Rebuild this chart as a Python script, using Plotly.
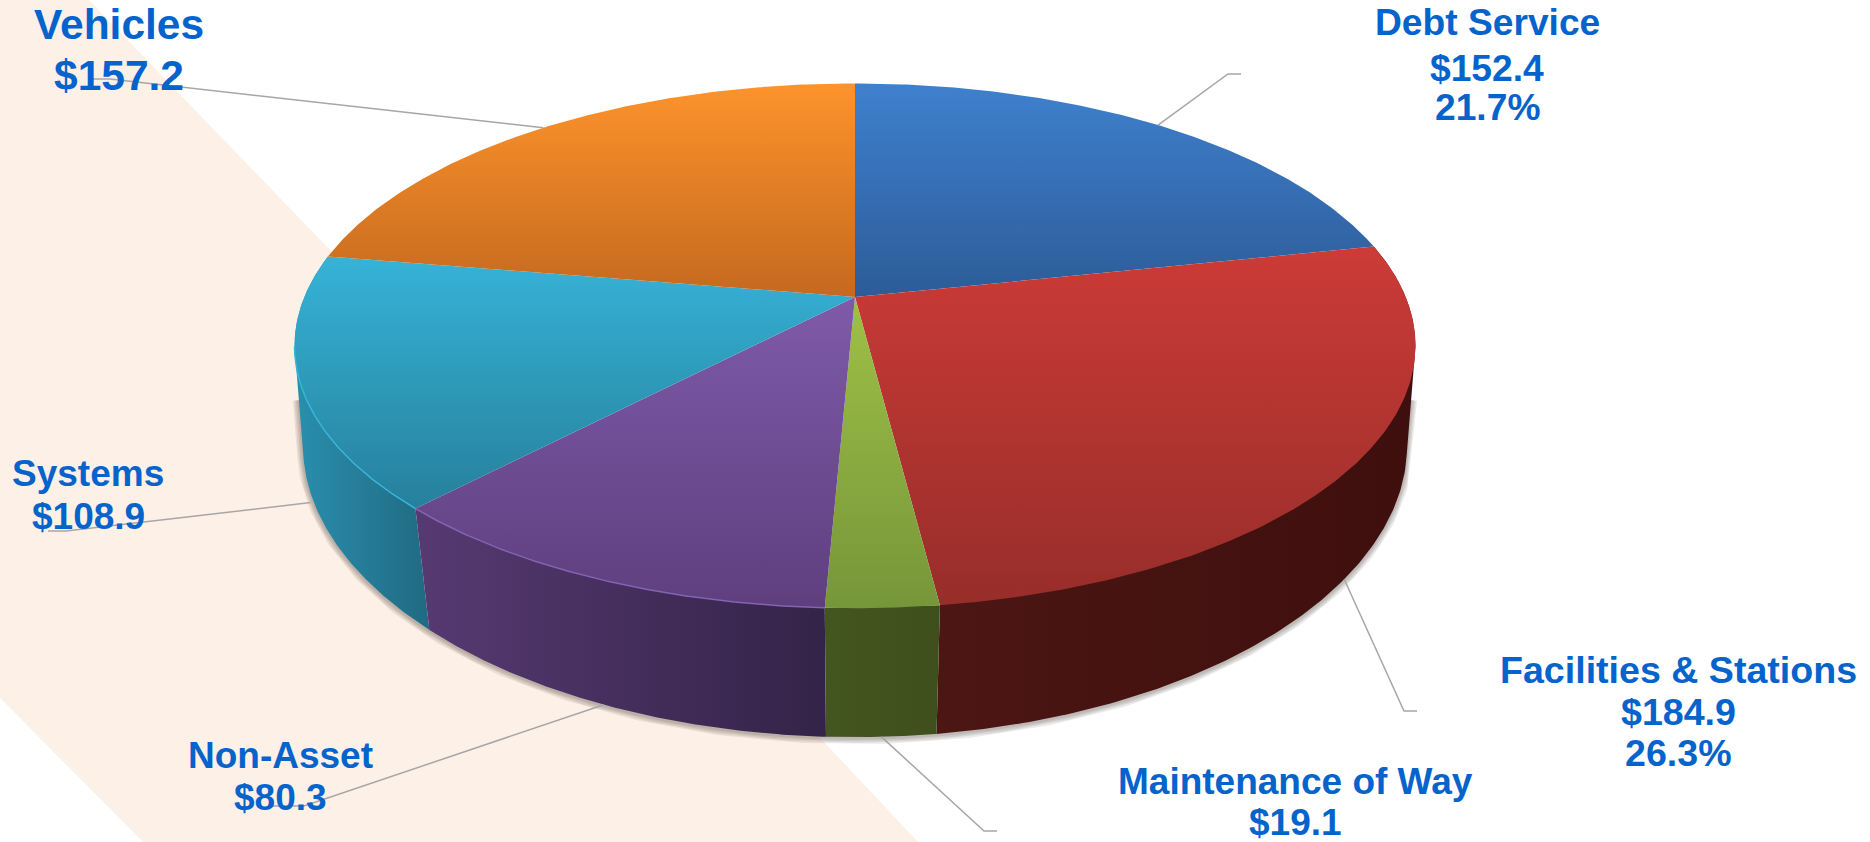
import numpy as np
import plotly.graph_objects as go

# Budget categories, clockwise from twelve o'clock ($ millions)
categories = ["Debt Service", "Facilities & Stations", "Maintenance of Way",
              "Non-Asset", "Systems", "Vehicles"]
values = [152.4, 184.9, 19.1, 80.3, 108.9, 157.2]
show_percent = [True, True, False, False, False, False]

# Top-face gradient (far colour, near colour) and side-wall gradient (left, right)
top_colors = [("#3f80ce", "#2c5c98"), ("#cc3b37", "#972d2a"), ("#9fc046", "#76963a"),
              ("#7f5aa9", "#5e3f7e"), ("#36b3d7", "#26809c"), ("#fd932b", "#c4691f")]
side_colors = [("#1f3f66", "#1f3f66"), ("#4c1613", "#3e0f0e"), ("#44561f", "#3e4f1d"),
               ("#563a72", "#342348"), ("#2a8fae", "#206a83"), ("#7a4510", "#7a4510")]
rim_colors = [None, None, None, "#8463b2", "#38b6da", None]

# Perspective projection of the pie disc onto the page
CX, CY = 855.0, 297.0
RX, RY = 550.7, 253.3
TILT = 0.186
DEPTH = 105.0
# Angles where the disc outline turns from the far side to the near side
TANGENT_R = np.arccos(-TILT)
TANGENT_L = 2 * np.pi - TANGENT_R

# Label centres and baselines, plus the elbow and end of each leader line
label_x = [1487, 1678, 1295, 280, 88, 119]
label_y = [[37, 83, 122], [685, 727, 768], [796, 837], [770, 812], [488, 531], [41, 92]]
label_size = [37.2, 37.6, 37, 37, 37, 42.5]
leader_elbow = [(1228, 74), (1404, 711), (984, 831), (304, 806), (66, 531), (110, 79)]
leader_end = [(1241, 74), (1417, 711), (997, 831), (272, 806), (48, 531), (90, 79)]
leader_on_base = [False, True, True, True, True, False]
leader_drop = [0, 0, 0, 0, 9, 0]

TEXT_COLOR = "#0563cc"
LEADER_COLOR = "#a6a6a6"
BAND_COLOR = "#fdf0e7"


def rim(theta, base=False):
    """Page position of the disc rim at clockwise angle theta (radians)."""
    x, y = np.sin(theta), np.cos(theta)
    w = 1 + TILT * y
    px = RX * x / w
    py = -RY * y / w
    if base:
        shrink = 0.99 + 0.03 * np.clip(y, -1, 0)
        return CX + px * shrink, CY + py + DEPTH / w
    return CX + px, CY + py


def wall_outline(start, stop):
    """Outline of a slice's wall: bottom rim on the near side, top rim elsewhere."""
    x0, y0 = rim(np.array([start]))
    x1, y1 = rim(np.array([stop]))
    pts_x, pts_y = [x0], [y0]
    # Split exactly at the tangents so the silhouette edge stays straight
    stops = np.unique(np.r_[start, stop,
                            [t for t in (TANGENT_R, TANGENT_L) if start < t < stop]])
    for a, b in zip(stops[:-1], stops[1:]):
        on_base = TANGENT_R <= (a + b) / 2 <= TANGENT_L
        x, y = rim(np.linspace(a, b, 120), base=on_base)
        pts_x.append(x)
        pts_y.append(y)
    pts_x += [x1, x0]
    pts_y += [y1, y0]
    return np.concatenate(pts_x), np.concatenate(pts_y)


total = sum(values)
edges = np.concatenate([[0], np.cumsum(values)]) / total * 2 * np.pi

fig = go.Figure()

# Soft contact shadow following the near silhouette, fading out before the top rim
arc = np.linspace(TANGENT_R, TANGENT_L, 300)
bx, by = rim(arc, base=True)
rx, ry = rim(np.array([TANGENT_R]))
lx, ly = rim(np.array([TANGENT_L]))
sx_path = np.r_[(rx + bx[0]) / 2, bx, (lx + bx[-1]) / 2]
sy_path = np.r_[(ry + by[0]) / 2, by + 1, (ly + by[-1]) / 2]
for width in (12, 9, 6, 3):
    fig.add_trace(go.Scatter(x=sx_path, y=sy_path, mode="lines", hoverinfo="skip",
                             line=dict(color="rgba(70,60,50,0.10)", width=width)))

# Side walls
for i in [1, 4, 3, 2]:
    wx, wy = wall_outline(edges[i], edges[i + 1])
    fig.add_trace(go.Scatter(
        x=wx, y=wy, mode="lines", line=dict(width=0), fill="toself", hoverinfo="skip",
        fillgradient=dict(type="horizontal",
                          colorscale=[[0, side_colors[i][0]], [1, side_colors[i][1]]]),
    ))

# Top faces; the page y axis runs downward, so the gradient stops are listed near-to-far
for i in range(len(values)):
    arc = np.linspace(edges[i], edges[i + 1], 160)
    tx, ty = rim(arc)
    fig.add_trace(go.Scatter(
        x=np.r_[CX, tx, CX], y=np.r_[CY, ty, CY],
        mode="lines", line=dict(width=0), fill="toself",
        name=categories[i], hovertemplate=f"{categories[i]}: ${values[i]:.1f}<extra></extra>",
        fillgradient=dict(type="vertical",
                          colorscale=[[0, top_colors[i][1]], [1, top_colors[i][0]]]),
    ))
    if rim_colors[i]:
        front = arc <= TANGENT_L
        fig.add_trace(go.Scatter(x=tx[front], y=ty[front], mode="lines", hoverinfo="skip",
                                 line=dict(color=rim_colors[i], width=1.5)))

# Leader lines from the middle of each slice's rim out to its label
for i in range(len(values)):
    mid = (edges[i] + edges[i + 1]) / 2
    sx, sy = rim(mid, base=leader_on_base[i])
    fig.add_trace(go.Scatter(
        x=[sx, leader_elbow[i][0], leader_end[i][0]],
        y=[sy + leader_drop[i], leader_elbow[i][1], leader_end[i][1]],
        mode="lines", hoverinfo="skip", line=dict(color=LEADER_COLOR, width=1.5),
    ))

# Labels: one annotation per line so the leading can be set directly
annotations = []
for i, name in enumerate(categories):
    lines = [name, f"${values[i]:.1f}"]
    if show_percent[i]:
        lines.append(f"{values[i] / total * 100:.1f}%")
    for text, baseline in zip(lines, label_y[i]):
        annotations.append(dict(
            x=label_x[i], y=baseline - label_size[i] * 0.4, xref="x", yref="y",
            text=f"<b>{text}</b>", showarrow=False, xanchor="center", yanchor="middle",
            borderpad=0,
            font=dict(family="Liberation Sans, Arial, sans-serif",
                      size=label_size[i], color=TEXT_COLOR),
        ))

fig.update_layout(
    width=1870, height=842, autosize=False, showlegend=False,
    margin=dict(l=0, r=0, t=0, b=0),
    paper_bgcolor="white", plot_bgcolor="white",
    xaxis=dict(range=[0, 1870], visible=False, fixedrange=True),
    yaxis=dict(range=[842, 0], visible=False, fixedrange=True),
    annotations=annotations,
    shapes=[dict(type="path", layer="below", xref="x", yref="y", line=dict(width=0),
                 fillcolor=BAND_COLOR,
                 path="M0,0 L89,0 L332,252 L825,743 L918,842 L143,842 L0,698 Z")],
)

fig.write_html("out.html")
